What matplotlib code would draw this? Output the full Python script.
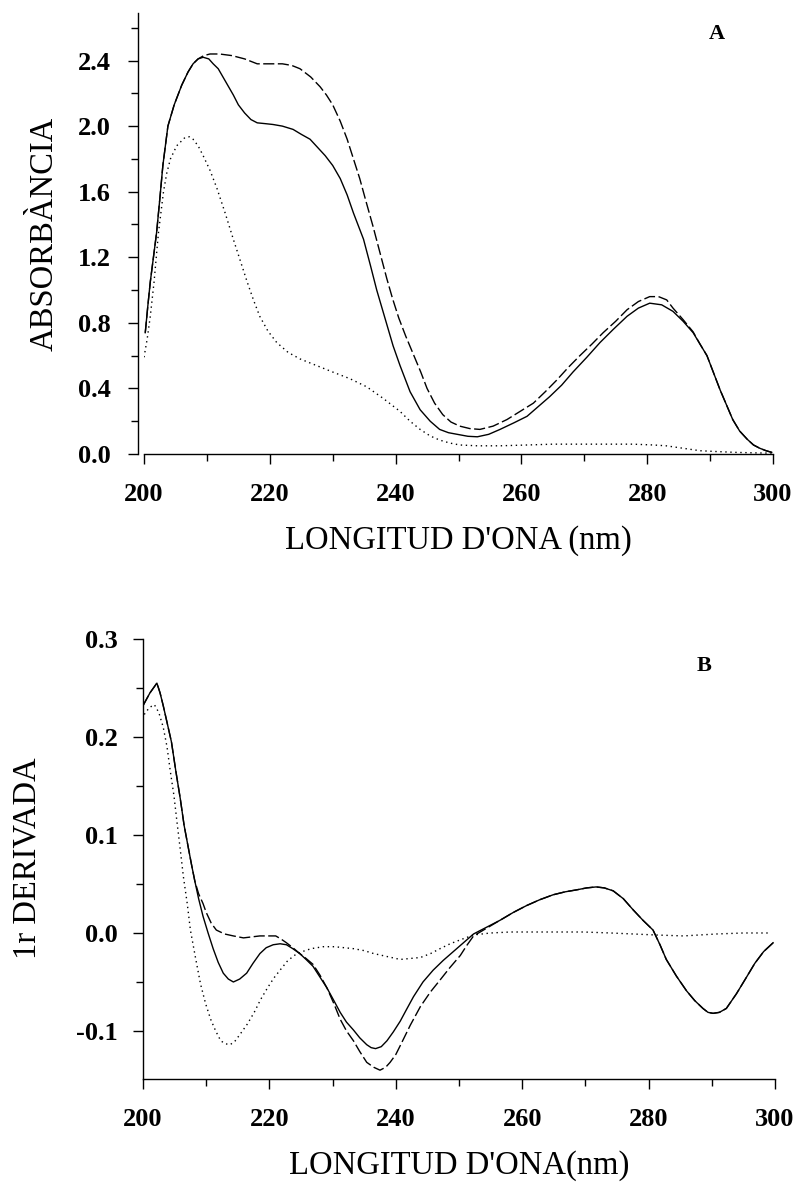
import matplotlib
matplotlib.use("Agg")
import matplotlib.pyplot as plt
from matplotlib.ticker import MultipleLocator, FormatStrFormatter

# ---------------- Panel A data (absorbance) ----------------
a_solid_x = [200.2, 200.6, 201.0, 201.5, 202.0, 202.5, 203.0, 203.8, 204.8, 206.0, 207.0, 207.8,
             208.6, 209.4, 210.3, 211.0, 211.8, 213.0, 214.2, 215.0, 216.0, 217.0, 218.0, 219.3,
             220.5, 222.0, 223.7, 225.0, 226.4, 227.6, 228.8, 230.0, 231.2, 232.3, 233.3, 234.1,
             234.9, 236.0, 237.0, 238.3, 239.6, 240.7, 242.3, 243.9, 245.5, 247.0, 248.4, 249.8,
             251.5, 253.0, 254.8, 256.6, 258.8, 260.9, 262.7, 264.5, 266.4, 268.2, 270.4, 272.5,
             274.6, 276.8, 278.6, 280.4, 282.3, 284.1, 285.7, 287.3, 288.4, 289.5, 290.5, 291.6,
             292.6, 293.6, 294.7, 295.9, 296.9, 297.9, 298.9, 299.8]
a_solid_y = [0.74, 0.90, 1.05, 1.20, 1.35, 1.55, 1.76, 2.00, 2.13, 2.25, 2.33, 2.38,
             2.41, 2.42, 2.41, 2.38, 2.35, 2.27, 2.19, 2.13, 2.08, 2.04, 2.02, 2.015,
             2.01, 2.00, 1.98, 1.95, 1.92, 1.87, 1.82, 1.76, 1.68, 1.58, 1.47, 1.39,
             1.31, 1.15, 1.00, 0.83, 0.66, 0.54, 0.38, 0.27, 0.20, 0.15, 0.13, 0.12,
             0.108, 0.105, 0.12, 0.15, 0.19, 0.23, 0.29, 0.35, 0.42, 0.50, 0.59, 0.68,
             0.76, 0.84, 0.89, 0.92, 0.91, 0.87, 0.81, 0.74, 0.67, 0.60, 0.50, 0.39,
             0.30, 0.21, 0.14, 0.09, 0.055, 0.035, 0.02, 0.01]

a_dash_x = [200.2, 200.6, 201.0, 201.5, 202.0, 202.5, 203.0, 203.8, 204.8, 206.0, 207.0, 207.8,
            208.6, 209.5, 210.5, 212.0, 214.0, 216.0, 218.0, 220.0, 222.0, 223.5, 224.8, 226.5,
            228.0, 229.0, 230.0, 231.2, 232.3, 233.3, 234.3, 235.3, 236.4, 237.5, 238.6, 239.5,
            240.5, 241.6, 242.8, 244.0, 245.0, 246.2, 247.5, 248.8, 250.2, 251.8, 253.4, 255.5,
            257.7, 259.8, 261.9, 263.8, 265.6, 267.5, 269.3, 271.2, 273.0, 275.0, 276.8, 278.6,
            280.4, 281.8, 283.1, 284.1, 285.7, 287.3, 288.4, 289.5, 290.5, 291.6, 292.6, 293.6,
            294.7, 295.9, 296.9, 297.9, 298.9, 299.8]
a_dash_y = [0.74, 0.90, 1.05, 1.20, 1.35, 1.55, 1.76, 2.00, 2.13, 2.25, 2.33, 2.38,
            2.41, 2.43, 2.44, 2.44, 2.43, 2.41, 2.38, 2.38, 2.38, 2.37, 2.35, 2.30,
            2.24, 2.19, 2.13, 2.03, 1.92, 1.80, 1.68, 1.54, 1.39, 1.23, 1.07, 0.95,
            0.83, 0.72, 0.61, 0.50, 0.40, 0.31, 0.24, 0.195, 0.17, 0.155, 0.15, 0.17,
            0.21, 0.26, 0.31, 0.38, 0.45, 0.53, 0.60, 0.67, 0.74, 0.81, 0.88, 0.93,
            0.96, 0.96, 0.94, 0.89, 0.82, 0.745, 0.67, 0.60, 0.50, 0.39, 0.30, 0.21,
            0.14, 0.09, 0.055, 0.035, 0.02, 0.01]

a_dot_x = [200.0, 200.5, 201.0, 201.6, 202.3, 203.1, 203.6, 204.2, 205.2, 206.5, 207.2, 207.8,
           208.6, 209.4, 210.5, 211.6, 212.9, 214.2, 215.3, 216.4, 217.4, 218.4, 219.7, 221.1,
           222.9, 224.8, 227.4, 230.0, 232.7, 235.4, 238.0, 240.7, 242.3, 243.9, 245.5, 247.0,
           248.6, 250.2, 253.0, 256.6, 261.0, 265.0, 271.0, 277.7, 281.0, 283.0, 285.7, 288.4,
           291.0, 294.0, 297.0, 300.0]
a_dot_y = [0.59, 0.70, 0.84, 1.05, 1.35, 1.60, 1.71, 1.80, 1.88, 1.93, 1.935, 1.92,
           1.88, 1.82, 1.73, 1.62, 1.47, 1.31, 1.18, 1.05, 0.94, 0.84, 0.75, 0.68,
           0.62, 0.58, 0.54, 0.50, 0.46, 0.41, 0.34, 0.26, 0.20, 0.15, 0.11, 0.085,
           0.067, 0.055, 0.05, 0.05, 0.055, 0.06, 0.06, 0.06, 0.055, 0.05, 0.035, 0.02,
           0.015, 0.01, 0.007, 0.005]

# ---------------- Panel B data (first derivative) ----------------
b_solid_x = [200.0, 201.1, 202.2, 202.7, 203.2, 203.8, 204.5, 205.2, 205.9, 206.5, 207.2, 207.7,
             208.2, 208.8, 209.5, 210.3, 211.1, 211.9, 212.7, 213.5, 214.3, 215.3, 216.4, 217.4,
             218.5, 219.5, 220.6, 221.7, 222.7, 223.7, 224.8, 225.8, 226.9, 228.0, 229.1, 230.2,
             231.2, 232.2, 233.3, 234.3, 235.4, 236.1, 236.8, 237.7, 238.6, 239.6, 240.7, 241.7,
             242.8, 244.3, 245.9, 247.5, 249.1, 250.7, 252.3, 254.4, 256.5, 258.6, 260.7, 262.8,
             264.9, 266.8, 268.6, 270.2, 271.7, 273.0, 274.4, 276.0, 277.5, 279.1, 280.7, 281.8,
             282.8, 284.4, 286.0, 287.3, 288.6, 289.4, 290.2, 291.2, 292.3, 293.9, 295.5, 296.8,
             298.2, 299.7]
b_solid_y = [0.232, 0.245, 0.255, 0.245, 0.232, 0.215, 0.195, 0.165, 0.137, 0.110, 0.086, 0.069,
             0.053, 0.035, 0.017, 0.000, -0.016, -0.030, -0.041, -0.047, -0.050, -0.047, -0.041, -0.031,
             -0.021, -0.015, -0.012, -0.011, -0.012, -0.016, -0.021, -0.027, -0.034, -0.045, -0.056, -0.069,
             -0.081, -0.091, -0.099, -0.107, -0.114, -0.117, -0.118, -0.116, -0.110, -0.101, -0.090, -0.078,
             -0.065, -0.050, -0.038, -0.028, -0.019, -0.010, -0.001, 0.006, 0.013, 0.021, 0.028, 0.034,
             0.039, 0.042, 0.044, 0.046, 0.047, 0.046, 0.043, 0.035, 0.024, 0.013, 0.003, -0.012,
             -0.027, -0.044, -0.059, -0.069, -0.077, -0.081, -0.082, -0.081, -0.077, -0.062, -0.045, -0.031,
             -0.019, -0.010]

b_dash_x = [200.0, 201.1, 202.2, 202.7, 203.2, 203.8, 204.5, 205.2, 205.9, 206.5, 207.2, 207.7,
            208.2, 208.8, 209.5, 210.0, 210.8, 211.6, 212.9, 214.3, 215.9, 217.2, 218.5, 219.7,
            221.0, 221.8, 222.7, 223.7, 224.8, 225.8, 226.9, 228.0, 229.1, 230.2, 231.2, 232.2,
            233.3, 234.3, 235.4, 236.5, 237.5, 238.4, 239.1, 240.0, 240.7, 242.3, 243.9, 245.5,
            247.0, 248.6, 250.2, 251.2, 252.3, 254.4, 256.5, 258.6, 260.7, 262.8, 264.9, 266.8,
            268.6, 270.2, 271.7, 273.0, 274.4, 276.0, 277.5, 279.1, 280.7, 281.8, 282.8, 284.4,
            286.0, 287.3, 288.6, 289.4, 290.2, 291.2, 292.3, 293.9, 295.5, 296.8, 298.2, 299.7]
b_dash_y = [0.232, 0.245, 0.255, 0.245, 0.232, 0.215, 0.195, 0.165, 0.137, 0.110, 0.086, 0.069,
            0.053, 0.040, 0.030, 0.021, 0.010, 0.003, -0.001, -0.003, -0.005, -0.004, -0.003, -0.003,
            -0.003, -0.006, -0.010, -0.015, -0.021, -0.026, -0.032, -0.043, -0.056, -0.072, -0.088, -0.100,
            -0.110, -0.121, -0.132, -0.137, -0.140, -0.137, -0.132, -0.124, -0.115, -0.094, -0.075, -0.060,
            -0.048, -0.035, -0.023, -0.013, -0.003, 0.005, 0.013, 0.021, 0.028, 0.034, 0.039, 0.042,
            0.044, 0.046, 0.047, 0.046, 0.043, 0.035, 0.024, 0.013, 0.003, -0.012, -0.027, -0.044,
            -0.059, -0.069, -0.077, -0.081, -0.082, -0.081, -0.077, -0.062, -0.045, -0.031, -0.019, -0.010]

b_dot_x = [200.2, 201.0, 201.8, 202.5, 203.2, 203.8, 204.3, 204.9, 205.4, 205.9, 206.4, 207.0,
           207.5, 208.3, 209.1, 209.9, 210.7, 211.5, 212.3, 213.0, 213.8, 214.6, 215.4, 216.5,
           217.6, 218.6, 219.7, 220.7, 221.8, 222.8, 223.9, 225.2, 226.6, 228.5, 230.3, 231.8,
           233.3, 235.0, 236.5, 238.6, 240.7, 242.3, 243.9, 245.5, 247.0, 248.6, 250.2, 252.3,
           255.0, 258.1, 264.0, 269.7, 274.0, 277.5, 281.0, 285.5, 290.8, 295.0, 299.2]
b_dot_y = [0.223, 0.230, 0.233, 0.225, 0.210, 0.190, 0.166, 0.140, 0.112, 0.085, 0.057, 0.030,
           0.003, -0.025, -0.052, -0.072, -0.088, -0.100, -0.110, -0.113, -0.114, -0.110, -0.103, -0.093,
           -0.081, -0.068, -0.056, -0.046, -0.037, -0.029, -0.023, -0.019, -0.016, -0.014, -0.014, -0.015,
           -0.016, -0.018, -0.021, -0.024, -0.027, -0.026, -0.025, -0.021, -0.016, -0.011, -0.007, -0.002,
           0.000, 0.001, 0.001, 0.001, 0.000, -0.001, -0.002, -0.003, -0.001, 0.000, 0.000]

# ---------------- Text ----------------
x_label_a = "LONGITUD D'ONA (nm)"
x_label_b = "LONGITUD D'ONA(nm)"
y_label_a = "ABSORBÀNCIA"
y_label_b = "1r DERIVADA"
panel_a = "A"
panel_b = "B"

serif = ["Liberation Serif", "DejaVu Serif"]
plt.rcParams['font.family'] = serif

fig = plt.figure(figsize=(7.97, 11.84), dpi=100)
W, H = 797, 1184

axA = fig.add_axes([144 / W, (H - 454) / H, 629 / W, 441 / H])
axB = fig.add_axes([143 / W, (H - 1079) / H, 632 / W, 440 / H])

line_kw = dict(color="black", lw=1.0)
for ax, (sx, sy, dx, dy, ox, oy) in zip(
        [axA, axB],
        [(a_solid_x, a_solid_y, a_dash_x, a_dash_y, a_dot_x, a_dot_y),
         (b_solid_x, b_solid_y, b_dash_x, b_dash_y, b_dot_x, b_dot_y)]):
    ax.plot(sx, sy, ls="-", **line_kw)
    ax.plot(dx, dy, ls=(0, (8, 2.5)), **line_kw)
    ax.plot(ox, oy, ls=(0, (1, 2.6)), **line_kw)

for ax in (axA, axB):
    for s in ("top", "right"):
        ax.spines[s].set_visible(False)
    for s in ("left", "bottom"):
        ax.spines[s].set_linewidth(1.0)
    ax.set_xlim(200, 300)
    ax.xaxis.set_major_locator(MultipleLocator(20))
    ax.xaxis.set_minor_locator(MultipleLocator(10))
    ax.tick_params(which="both", direction="out", width=1.0, colors="black")
    ax.tick_params(which="major", length=7)
    ax.tick_params(which="minor", length=5)
    ax.tick_params(axis="x", which="major", pad=14)

axA.spines["left"].set_position(("outward", 4))
axA.set_ylim(0, 2.69)
axA.yaxis.set_major_locator(MultipleLocator(0.4))
axA.yaxis.set_minor_locator(MultipleLocator(0.2))
axA.yaxis.set_major_formatter(FormatStrFormatter("%.1f"))
axA.tick_params(axis="y", which="major", pad=13)

axB.set_ylim(-0.149, 0.3)
axB.yaxis.set_major_locator(MultipleLocator(0.1))
axB.yaxis.set_minor_locator(MultipleLocator(0.05))
axB.yaxis.set_major_formatter(FormatStrFormatter("%.1f"))
axB.tick_params(axis="y", which="major", pad=11)

for ax in (axA, axB):
    for lab in ax.get_xticklabels() + ax.get_yticklabels():
        lab.set_fontweight("bold")
        lab.set_fontsize(19)

def fig_text(x, y, s, **kw):
    fig.text(x / W, 1 - y / H, s, ha="center", va="center", **kw)

fig_text(458, 541, x_label_a, fontsize=23.5)
fig_text(459, 1166, x_label_b, fontsize=23.5)
fig_text(44, 234, y_label_a, fontsize=23.5, rotation=90)
fig_text(27, 858, y_label_b, fontsize=23.5, rotation=90)

axA.text(291.1, 2.56, panel_a, ha="center", va="center", fontsize=16, fontweight="bold")
axB.text(288.8, 0.272, panel_b, ha="center", va="center", fontsize=16, fontweight="bold")

fig.savefig("out.png", dpi=100)
